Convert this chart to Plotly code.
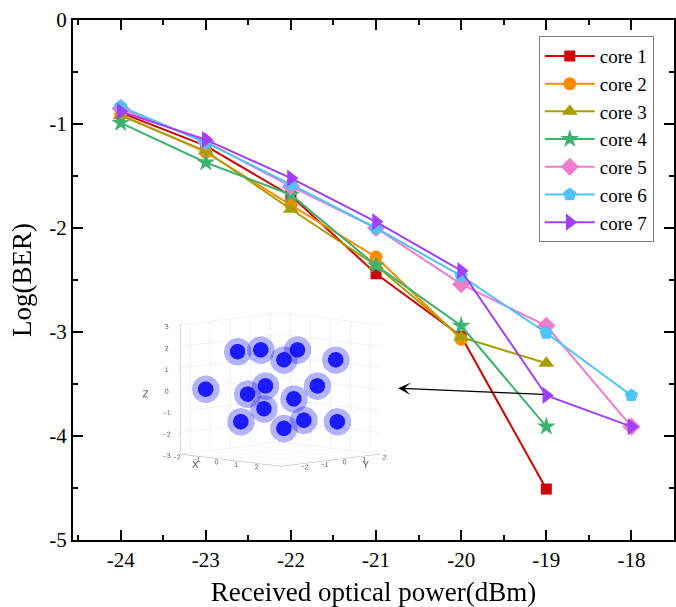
import plotly.graph_objects as go

# ---------------- data ----------------
power_a = [-24, -23, -22, -21, -20, -19]
power_b = [-24, -23, -22, -21, -20]
power_c = [-24, -23, -22, -21, -20, -19, -18]

core1 = [-0.89, -1.21, -1.69, -2.44, -3.04, -4.51]
core2 = [-0.91, -1.27, -1.78, -2.28, -3.07]
core3 = [-0.92, -1.26, -1.82, -2.36, -3.05, -3.30]
core4 = [-0.99, -1.37, -1.68, -2.36, -2.94, -3.91]
core5 = [-0.85, -1.17, -1.60, -2.00, -2.54, -2.94, -3.91]
core6 = [-0.83, -1.18, -1.58, -2.00, -2.46, -3.01, -3.61]
core7 = [-0.88, -1.15, -1.52, -1.94, -2.41, -3.61, -3.91]

names = ["core 1", "core 2", "core 3", "core 4", "core 5", "core 6", "core 7"]

x_ticks = [-24, -23, -22, -21, -20, -19, -18]
x_ticktext = ["-24", "-23", "-22", "-21", "-20", "-19", "-18"]
y_ticks = [0, -1, -2, -3, -4, -5]
y_ticktext = ["0", "-1", "-2", "-3", "-4", "-5"]

# inset constellation: cluster centres
inset_x = [-1.08, -0.50, 0.08, 0.42, 1.38,
           -1.88, -0.83, -0.38, -0.42, 0.33, 0.92,
           -1.00, 0.08, 0.58, 1.42]
inset_y = [-1.08, -0.50, 0.08, 0.42, 1.38,
           -1.88, -0.83, -0.38, -0.42, 0.33, 0.92,
           -1.00, 0.08, 0.58, 1.42]
inset_z = [1.77, 1.85, 1.39, 1.85, 1.39,
           0.03, -0.20, 0.18, -0.88, -0.42, 0.18,
           -1.48, -1.79, -1.41, -1.48]
inset_ticks_xy = [-2, -1, 0, 1, 2]
inset_ticks_z = [-3, -2, -1, 0, 1, 2, 3]

# arrow (tail at core 7 point, head pointing to inset)
arrow_tail = (-19.02, -3.60)
arrow_head = (-20.74, -3.54)

# ---------------- styles ----------------
colors = ["#d00000", "#ff8c00", "#a89e00", "#3cb371", "#f07ccc", "#4dc3fa", "#a040f8"]
symbols = ["square", "circle", "triangle-up", "star", "diamond", "pentagon", "triangle-right"]
sizes = [11, 13, 14, 14, 14, 14, 15]
xs = [power_a, power_b, power_a, power_a, power_c, power_c, power_c]
ys = [core1, core2, core3, core4, core5, core6, core7]

FONT = "Liberation Serif"
SANS = "Liberation Sans"

fig = go.Figure()
for i in range(7):
    fig.add_trace(go.Scatter(
        x=xs[i], y=ys[i], mode="lines+markers", name=names[i],
        line=dict(color=colors[i], width=2),
        marker=dict(symbol=symbols[i], size=sizes[i], color=colors[i]),
    ))

# inset 3D scatter (blobs)
fig.add_trace(go.Scatter3d(
    x=inset_x, y=inset_y, z=inset_z, mode="markers", showlegend=False,
    marker=dict(size=16, color="#0000ff", opacity=0.3, line=dict(width=0)),
    scene="scene", hoverinfo="skip"))
fig.add_trace(go.Scatter3d(
    x=inset_x, y=inset_y, z=inset_z, mode="markers", showlegend=False,
    marker=dict(size=9, color="#0000ff", opacity=0.85, line=dict(width=0)),
    scene="scene", hoverinfo="skip"))

ax3 = dict(showbackground=False, gridcolor="#e6e6e6", gridwidth=1,
           showline=True, linecolor="#b0b0b0", zeroline=False,
           ticks="outside", ticklen=2, tickcolor="#b0b0b0",
           tickfont=dict(family=SANS, size=9, color="#555555"),
           showspikes=False)
t3 = dict(family=SANS, size=10, color="#555555")

fig.update_layout(
    width=676, height=607,
    margin=dict(l=73, r=0, t=20, b=67),
    paper_bgcolor="white", plot_bgcolor="white",
    font=dict(family=FONT, color="black"),
    xaxis=dict(
        range=[-24.56, -17.5], tickmode="array", tickvals=x_ticks, ticktext=x_ticktext,
        ticks="inside", ticklen=10, tickwidth=2, tickcolor="black",
        showline=True, linewidth=2, linecolor="black", mirror="ticks",
        showgrid=False, zeroline=False,
        tickfont=dict(family=FONT, size=21),
        minor=dict(tickmode="linear", tick0=-24.5, dtick=1, ticks="inside",
                   ticklen=5, tickwidth=2, tickcolor="black", showgrid=False),
        title=dict(text="Received optical power(dBm)", font=dict(family=FONT, size=27), standoff=11),
    ),
    yaxis=dict(
        range=[-5, 0], tickmode="array", tickvals=y_ticks, ticktext=y_ticktext,
        ticks="inside", ticklen=10, tickwidth=2, tickcolor="black",
        showline=True, linewidth=2, linecolor="black", mirror="ticks",
        showgrid=False, zeroline=False,
        tickfont=dict(family=FONT, size=21),
        minor=dict(tickmode="linear", tick0=-4.5, dtick=1, ticks="inside",
                   ticklen=5, tickwidth=2, tickcolor="black", showgrid=False),
        title=dict(text="Log(BER)", font=dict(family=FONT, size=27), standoff=10),
    ),
    legend=dict(
        x=0.775, y=0.969, xanchor="left", yanchor="top",
        bgcolor="white", bordercolor="#808080", borderwidth=1,
        font=dict(family=FONT, size=19), itemwidth=50, tracegroupgap=0,
    ),
    scene=dict(
        domain=dict(x=[0.08, 0.61], y=[0.06, 0.52]),
        bgcolor="rgba(0,0,0,0)",
        xaxis=dict(ax3, range=[-2.5, 2.5], tickvals=inset_ticks_xy,
                   title=dict(text="X", font=t3)),
        yaxis=dict(ax3, range=[-2.5, 2.5], tickvals=inset_ticks_xy,
                   title=dict(text="Y", font=t3)),
        zaxis=dict(ax3, range=[-3, 3], tickvals=inset_ticks_z,
                   title=dict(text="Z", font=t3)),
        aspectmode="manual", aspectratio=dict(x=1.18, y=1.18, z=1.09),
        camera=dict(eye=dict(x=1.42, y=-1.42, z=0.245), up=dict(x=0, y=0, z=1),
                    center=dict(x=0, y=0, z=0),
                    projection=dict(type="orthographic")),
    ),
    annotations=[dict(
        x=arrow_head[0], y=arrow_head[1], ax=arrow_tail[0], ay=arrow_tail[1],
        xref="x", yref="y", axref="x", ayref="y", text="", showarrow=True,
        arrowhead=3, arrowsize=1.6, arrowwidth=1.3, arrowcolor="black",
    )],
)

fig.write_html("out.html", config={"displayModeBar": False},
               post_script="document.body.style.margin='0';")
